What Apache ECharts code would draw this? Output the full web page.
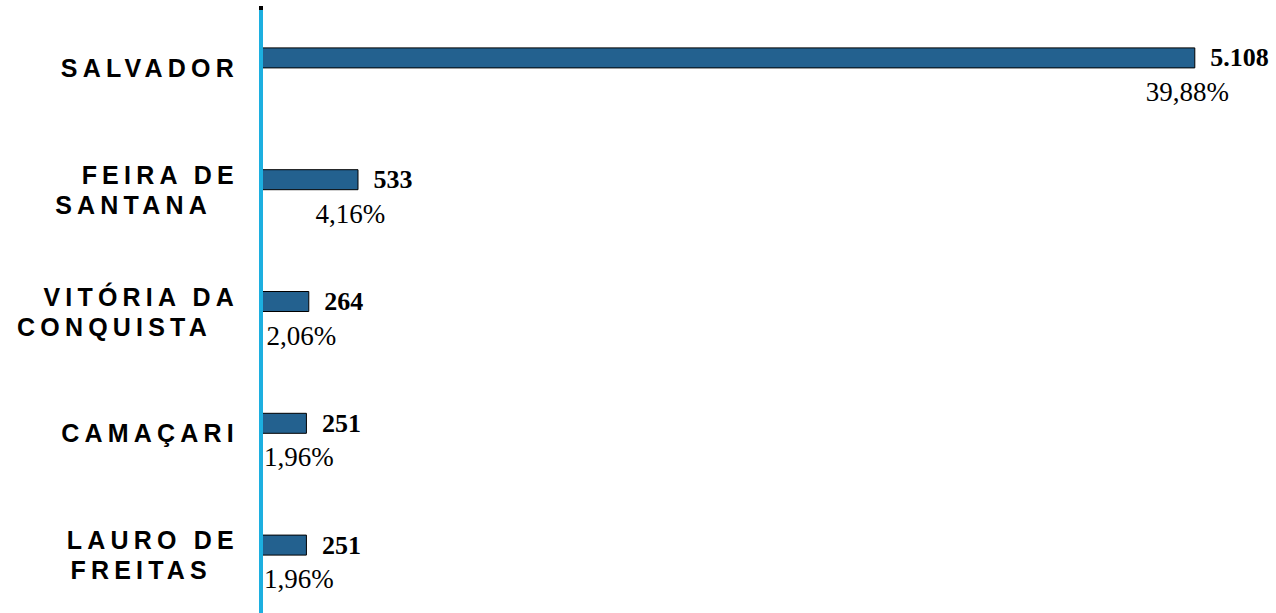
<!DOCTYPE html>
<html>
<head>
<meta charset="utf-8">
<script src="https://cdn.jsdelivr.net/npm/echarts@6/dist/echarts.min.js"></script>
<style>
  html, body { margin: 0; padding: 0; background: #fff; }
  #chart { width: 1276px; height: 613px; }
  #chart text[style*="Liberation Sans"] { letter-spacing: 5.2px; }
</style>
</head>
<body>
<div id="chart"></div>
<script>
// Data
const categories = ['SALVADOR', 'FEIRA DE\nSANTANA', 'VITÓRIA DA\nCONQUISTA', 'CAMAÇARI', 'LAURO DE\nFREITAS'];
const values = [5108, 533, 264, 251, 251];
const percents = [39.88, 4.16, 2.06, 1.96, 1.96];

function fmtThousands(v) {
  return String(v).replace(/\B(?=(\d{3})+(?!\d))/g, '.');
}
function fmtPercent(p) {
  return p.toFixed(2).replace('.', ',') + '%';
}

const chart = echarts.init(document.getElementById('chart'), null, { renderer: 'svg' });

const option = {
  animation: false,
  backgroundColor: '#ffffff',
  grid: { left: 261, right: 9, top: -3, bottom: 7, containLabel: false, outerBoundsMode: 'none' },
  xAxis: {
    type: 'value', min: 0, max: 5500,
    axisLine: { show: false }, axisTick: { show: false },
    axisLabel: { show: false }, splitLine: { show: false }
  },
  yAxis: {
    type: 'category', inverse: true, data: categories,
    axisLine: { show: false }, axisTick: { show: false },
    axisLabel: {
      margin: 22,
      fontFamily: 'Liberation Sans', fontWeight: 'bold', fontSize: 25, color: '#000',
      padding: [20, 0, 0, 0],
      formatter: function (val) {
        const parts = val.split('\n');
        if (parts.length === 1) return '{a|' + parts[0] + '}';
        return '{a|' + parts[0] + '}\n{b|' + parts[1] + '}';
      },
      rich: {
        a: { fontFamily: 'Liberation Sans', fontWeight: 'bold', fontSize: 25, color: '#000', lineHeight: 30, align: 'right' },
        b: { fontFamily: 'Liberation Sans', fontWeight: 'bold', fontSize: 25, color: '#000', lineHeight: 30, align: 'right', padding: [0, 27, 0, 0] }
      }
    }
  },
  series: [
    {
      type: 'bar',
      data: values,
      barWidth: 21,
      silent: true,
      itemStyle: { color: '#23618f', borderColor: '#000', borderWidth: 1 },
      label: {
        show: true, position: 'right', distance: 15,
        formatter: function (p) { return fmtThousands(values[p.dataIndex]); },
        fontFamily: 'Liberation Serif', fontWeight: 'bold', fontSize: 26, color: '#000'
      }
    },
    {
      type: 'scatter',
      data: values.map(function (v, i) { return [v, i]; }),
      symbolSize: 1,
      silent: true,
      itemStyle: { color: 'rgba(0,0,0,0)' },
      label: {
        show: true, position: 'inside', offset: [-8, 34],
        formatter: function (p) { return fmtPercent(percents[p.dataIndex]); },
        fontFamily: 'Liberation Serif', fontSize: 27, color: '#000',
        opacity: 1, textBorderWidth: 0, textBorderColor: 'transparent', textShadowBlur: 0
      }
    }
  ],
  graphic: [
    { type: 'rect', z: 100, shape: { x: 259, y: 6, width: 4, height: 607 }, style: { fill: '#1cafe0' } },
    { type: 'rect', z: 101, shape: { x: 259, y: 6, width: 4, height: 4 }, style: { fill: '#000' } }
  ]
};
chart.setOption(option);
</script>
</body>
</html>
